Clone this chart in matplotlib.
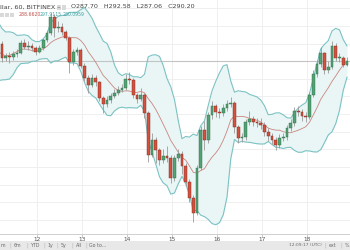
import matplotlib
matplotlib.use("Agg")
import matplotlib.pyplot as plt
from matplotlib.patches import Rectangle
import numpy as np
import pandas as pd

# hourly-ish candles (price units)
warmup_close = [308, 302, 290, 284, 283, 288, 296, 301, 304, 300]

close = [291.9, 293.0, 292.4, 294.1, 294.7, 300.4, 298.1, 298.7, 297.6, 295.3,
         297.6, 302.1, 306.1, 315.2, 308.9, 309.5, 306.6, 303.2, 289.6, 295.3,
         296.4, 287.3, 280.5, 276.5, 280.5, 278.2, 269.1, 265.7, 268.0, 270.3,
         272.0, 273.7, 274.8, 279.9, 279.4, 270.9, 268.6, 270.9, 260.6, 236.7,
         245.3, 239.6, 233.9, 236.2, 235.1, 223.7, 235.1, 237.4, 230.5, 221.4,
         212.4, 203.8, 229.4, 250.9, 245.3, 259.4, 264.5, 261.2, 260.6, 263.5,
         265.7, 266.3, 252.6, 246.4, 247.0, 255.5, 257.2, 255.5, 255.0, 253.8,
         249.8, 247.6, 245.3, 242.4, 246.4, 247.0, 252.1, 254.9, 261.8, 261.2,
         258.9, 258.3, 270.9, 282.8, 288.5, 294.7, 285.1, 286.8, 298.7, 291.9,
         291.9, 287.7, 290.2]

high = [301.5, 294.5, 295.0, 296.0, 297.0, 302.0, 302.5, 301.5, 300.5, 298.5,
        299.0, 303.5, 308.0, 317.5, 317.0, 313.0, 312.0, 308.0, 304.5, 297.0,
        298.0, 297.5, 289.0, 282.0, 283.0, 282.0, 279.0, 270.5, 270.0, 272.0,
        274.0, 276.0, 277.0, 283.0, 284.0, 280.5, 272.0, 275.0, 272.0, 262.0,
        249.0, 247.0, 241.0, 240.0, 242.0, 236.5, 236.5, 240.0, 239.0, 232.0,
        223.0, 214.0, 231.0, 253.0, 256.0, 261.0, 267.5, 266.0, 263.5, 265.5,
        268.0, 269.5, 267.5, 254.0, 249.5, 257.0, 262.0, 259.0, 258.0, 257.5,
        255.5, 252.0, 249.5, 247.0, 248.5, 249.0, 254.0, 257.0, 264.0, 264.5,
        263.0, 261.0, 272.5, 285.0, 291.0, 298.0, 295.5, 290.0, 301.5, 300.5,
        294.5, 293.0, 292.58]

low = [289.5, 290.0, 289.0, 291.0, 292.5, 294.0, 297.0, 296.5, 296.0, 293.5,
       294.5, 296.5, 301.0, 305.0, 304.0, 306.5, 305.0, 302.0, 283.5, 288.0,
       293.5, 286.0, 279.0, 272.0, 275.5, 276.0, 267.5, 260.5, 264.0, 266.5,
       269.0, 271.0, 272.5, 273.5, 277.0, 269.0, 266.5, 267.5, 258.0, 233.0,
       235.5, 232.0, 231.0, 232.5, 233.0, 221.0, 222.0, 233.5, 226.0, 219.0,
       210.0, 198.5, 202.5, 228.0, 239.5, 243.5, 257.0, 258.5, 258.0, 259.0,
       262.0, 264.0, 249.5, 243.5, 244.0, 245.5, 254.0, 253.0, 252.5, 251.5,
       247.5, 245.0, 243.0, 239.5, 241.0, 244.5, 245.5, 250.5, 253.5, 259.0,
       256.0, 255.5, 257.0, 269.5, 281.0, 287.0, 283.0, 283.5, 285.5, 290.0,
       289.5, 286.5, 287.06]

day_ticks = [9.3, 21.3, 33.3, 45.3, 57.3, 69.3, 81.3]
day_labels = ['12', '13', '14', '15', '16', '17', '18']

up_col = '#53a174'
dn_col = '#d4513d'
band_col = '#7cc3c4'
mid_col = '#c98680'

allc = pd.Series(warmup_close + close)
idx_all = np.arange(len(allc)) - len(warmup_close)
mid = allc.rolling(10).mean()
sd = allc.rolling(10).std(ddof=0)
upper = mid + 2 * sd
lower = mid - 2 * sd

opn = [warmup_close[-1]] + close[:-1]
opn[-1] = 287.70
x = np.arange(len(close))

fig = plt.figure(figsize=(3.5, 2.5), dpi=100)
ax = fig.add_axes([0, 16 / 250, 1, 234 / 250])

ax.fill_between(idx_all, lower, upper, color='#eaf5f5', lw=0, zorder=1)
ax.plot(idx_all, upper, color=band_col, lw=0.8, zorder=2)
ax.plot(idx_all, lower, color=band_col, lw=0.8, zorder=2)
ax.plot(idx_all, mid, color=mid_col, lw=0.6, zorder=2)

ax.axhline(290.2, color='#c4c4c4', lw=0.8, zorder=1.5)

ax.vlines(x, low, high, color='#9a9a9a', lw=0.6, zorder=3)
cols = [up_col if c >= o else dn_col for o, c in zip(opn, close)]
edges = ['#2f6b47' if c >= o else '#7a2a1e' for o, c in zip(opn, close)]
bottoms = np.minimum(opn, close)
heights = np.maximum(np.abs(np.array(close) - np.array(opn)), 0.4)
ax.bar(x, heights, bottom=bottoms, width=0.78, color=cols, edgecolor=edges,
       linewidth=0.3, zorder=4)

ax.set_xlim(-0.53, 92.8)
ax.set_ylim(191.9, 324.8)
ax.set_yticks(np.arange(200, 321, 10))
ax.set_xticks(day_ticks, day_labels)
ax.grid(True, color='#efefef', lw=0.7, zorder=0)
ax.set_axisbelow(True)
ax.tick_params(axis='y', left=False, labelleft=False)
ax.tick_params(axis='x', length=2, width=0.5, color='#b5b5b5', labelsize=4.2,
               labelcolor='#555555', pad=0.5)
for s in ['top', 'left', 'right']:
    ax.spines[s].set_visible(False)
ax.spines['bottom'].set_color('#c8c8c8')
ax.spines['bottom'].set_linewidth(0.6)

# header legend
fig.text(0.0, 1 - 7 / 250, 'llar, 60, BITFINEX \u2013', fontsize=4.6, color='#444444', va='center')
for bx in [57, 62]:
    fig.patches.append(Rectangle((bx / 350, 1 - 10 / 250), 4 / 350, 5 / 250, transform=fig.transFigure,
                                 facecolor='#d9d9d9', edgecolor='none'))
fig.text(71 / 350, 1 - 7 / 250, 'O287.70   H292.58   L287.06   C290.20', fontsize=4.6,
         color='#444444', va='center')
for bx in [0, 5, 10]:
    fig.patches.append(Rectangle((bx / 350, 1 - 17 / 250), 4 / 350, 4 / 250, transform=fig.transFigure,
                                 facecolor='#d9d9d9', edgecolor='none'))
fig.text(19 / 350, 1 - 15 / 250, '288.6620', fontsize=3.3, color='#c0504d', va='center')
fig.text(40 / 350, 1 - 15 / 250, '297.9115', fontsize=3.3, color='#3a9fa0', va='center')
fig.text(63 / 350, 1 - 15 / 250, '280.0959', fontsize=3.3, color='#3a9fa0', va='center')

# bottom toolbar
fig.patches.append(Rectangle((0, 0), 1, 9 / 250, transform=fig.transFigure,
                             facecolor='#e8e8e8', edgecolor='none'))
ty = 4.5 / 250
for tx, t in [(1, 'm'), (14, '6m'), (31, 'YTD'), (47, '1y'), (61, '5y'), (76, 'All'), (89, 'Go to...')]:
    fig.text(tx / 350, ty, t, fontsize=3.4, color='#6a6a6a', va='center')
for sx in [9, 26, 43, 56, 71, 85]:
    fig.text(sx / 350, ty, '|', fontsize=3.4, color='#b0b0b0', va='center')
fig.text(289 / 350, ty, '12:09:17 (UTC)', fontsize=3.2, color='#6a6a6a', va='center')
fig.text(324 / 350, ty, '|', fontsize=3.4, color='#b0b0b0', va='center')
fig.text(329 / 350, ty, 'ext', fontsize=3.4, color='#6a6a6a', va='center')
fig.text(340 / 350, ty, '|', fontsize=3.4, color='#b0b0b0', va='center')
fig.text(345 / 350, ty, '%', fontsize=3.4, color='#6a6a6a', va='center')

fig.savefig('out.png', dpi=100)
